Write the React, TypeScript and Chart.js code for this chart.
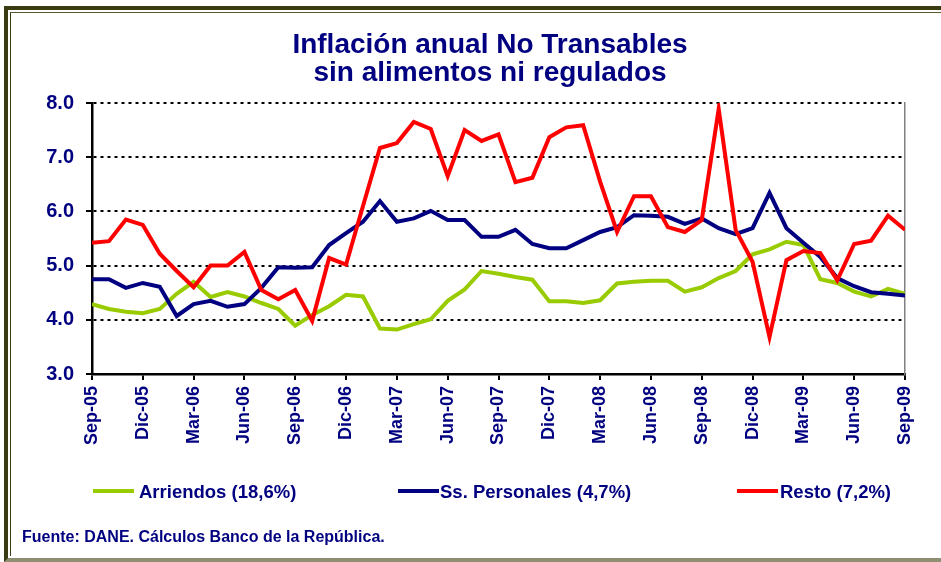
import React, { useEffect, useRef } from "react";
import { Chart, registerables } from "chart.js";

Chart.register(...registerables);

const months = [
  "Sep-05", "Oct-05", "Nov-05", "Dic-05", "Ene-06", "Feb-06", "Mar-06", "Abr-06", "May-06", "Jun-06", "Jul-06", "Ago-06",
  "Sep-06", "Oct-06", "Nov-06", "Dic-06", "Ene-07", "Feb-07", "Mar-07", "Abr-07", "May-07", "Jun-07", "Jul-07", "Ago-07",
  "Sep-07", "Oct-07", "Nov-07", "Dic-07", "Ene-08", "Feb-08", "Mar-08", "Abr-08", "May-08", "Jun-08", "Jul-08", "Ago-08",
  "Sep-08", "Oct-08", "Nov-08", "Dic-08", "Ene-09", "Feb-09", "Mar-09", "Abr-09", "May-09", "Jun-09", "Jul-09", "Ago-09",
  "Sep-09",
];

const arriendos = [
  4.29, 4.2, 4.15, 4.12, 4.2, 4.48, 4.7, 4.42, 4.51, 4.43, 4.31, 4.2,
  3.89, 4.09, 4.25, 4.46, 4.43, 3.84, 3.82, 3.92, 4.01, 4.35, 4.56, 4.9,
  4.85, 4.79, 4.74, 4.34, 4.34, 4.31, 4.36, 4.67, 4.7, 4.72, 4.72, 4.52,
  4.6, 4.77, 4.9, 5.21, 5.3, 5.44, 5.38, 4.75, 4.68, 4.52, 4.43, 4.57,
  4.48,
];

const ssPersonales = [
  4.75, 4.75, 4.59, 4.68, 4.61, 4.07, 4.29, 4.35, 4.24, 4.29, 4.59, 4.97,
  4.96, 4.97, 5.38, 5.6, 5.81, 6.19, 5.81, 5.87, 6.01, 5.84, 5.84, 5.53,
  5.53, 5.66, 5.4, 5.32, 5.32, 5.47, 5.62, 5.71, 5.93, 5.92, 5.9, 5.77,
  5.87, 5.69, 5.58, 5.69, 6.34, 5.69, 5.42, 5.16, 4.77, 4.62, 4.51, 4.48,
  4.45,
];

const resto = [
  5.42, 5.45, 5.85, 5.75, 5.22, 4.9, 4.6, 5.0, 5.0, 5.25, 4.55, 4.38,
  4.55, 3.98, 5.14, 5.02, 6.1, 7.17, 7.26, 7.65, 7.52, 6.65, 7.5, 7.3,
  7.42, 6.54, 6.62, 7.37, 7.55, 7.59, 6.55, 5.62, 6.28, 6.28, 5.71, 5.62,
  5.84, 7.89, 5.66, 5.07, 3.68, 5.1, 5.27, 5.23, 4.73, 5.4, 5.46, 5.92,
  5.66,
];

const seriesNames = ["Arriendos (18,6%)", "Ss. Personales (4,7%)", "Resto (7,2%)"];
const seriesColors = ["#99CC00", "#000080", "#FF0000"];
const titleLines = ["Inflación anual No Transables", "sin alimentos ni regulados"];
const sourceNote = "Fuente: DANE. Cálculos Banco de la República.";

const NAVY = "#000080";
const FONT = '"Liberation Sans", Arial, Helvetica, sans-serif';

const legendPos = [
  { line: 93, text: 139 },
  { line: 398, text: 440 },
  { line: 737, text: 780 },
];

export default function App() {
  const ref = useRef<HTMLCanvasElement | null>(null);

  useEffect(() => {
    if (!ref.current) return;
    const toPts = (arr: number[]) => arr.map((y, x) => ({ x, y }));
    const all = [arriendos, ssPersonales, resto];
    const orders = [3, 2, 1];
    const chart = new Chart(ref.current, {
      type: "line",
      data: {
        datasets: all.map((arr, i) => ({
          label: seriesNames[i],
          data: toPts(arr),
          borderColor: seriesColors[i],
          backgroundColor: seriesColors[i],
          borderWidth: 4,
          pointRadius: 0,
          tension: 0,
          fill: false,
          order: orders[i],
        })),
      },
      options: {
        animation: false,
        responsive: false,
        devicePixelRatio: 1,
        layout: { padding: { left: 0, right: 36, top: 103, bottom: 88 } },
        plugins: {
          legend: { display: false },
          tooltip: { enabled: false },
          title: { display: false },
        },
        scales: {
          x: {
            type: "linear",
            min: 0,
            max: months.length - 1,
            afterFit: (s: any) => {
              s.height = 100;
            },
            ticks: {
              stepSize: 3,
              autoSkip: false,
              maxRotation: 90,
              minRotation: 90,
              padding: 6,
              color: NAVY,
              font: { family: FONT, size: 18, weight: "bold" },
              callback: (v: any) => months[Number(v)] ?? "",
            },
            grid: {
              drawOnChartArea: false,
              drawTicks: true,
              tickLength: 6,
              color: "#000000",
              lineWidth: 2,
            },
            border: { color: "#000000", width: 2.5 },
          },
          y: {
            type: "linear",
            position: "left",
            min: 3,
            max: 8,
            afterFit: (s: any) => {
              s.width = 92;
            },
            ticks: {
              stepSize: 1,
              padding: 12,
              color: NAVY,
              font: { family: FONT, size: 20, weight: "bold" },
              callback: (v: any) => Number(v).toFixed(1),
            },
            grid: {
              color: "#000000",
              lineWidth: 2,
              tickLength: 6,
              drawTicks: true,
            },
            border: { color: "#000000", width: 2.5, dash: [3, 4] },
          },
          y2: {
            type: "linear",
            position: "right",
            min: 3,
            max: 8,
            afterFit: (s: any) => {
              s.width = 0;
            },
            ticks: { display: false },
            grid: { display: false },
            border: { color: "#808080", width: 1.5 },
          },
        },
      },
    } as any);
    return () => chart.destroy();
  }, []);

  return (
    <div
      style={{
        position: "fixed",
        left: 0,
        top: 0,
        width: 941,
        height: 562,
        overflow: "hidden",
        background: "#ffffff",
        fontFamily: FONT,
      }}
    >
      <div
        style={{
          position: "absolute",
          left: 4,
          top: 6,
          width: 2000,
          height: 556,
          boxSizing: "border-box",
          borderTop: "4px solid #3b3b12",
          borderLeft: "4px solid #3b3b12",
          borderBottom: "4px solid #8e8e72",
        }}
      />
      <div
        style={{
          position: "absolute",
          left: 10,
          top: 12,
          width: 2000,
          height: 544,
          boxSizing: "border-box",
          borderTop: "1px solid #5a5a2a",
          borderLeft: "1px solid #3b3b12",
        }}
      />
      <canvas
        ref={ref}
        width={941}
        height={562}
        style={{ position: "absolute", left: 0, top: 0, display: "block" }}
      />
      <div
        style={{
          position: "absolute",
          left: 0,
          top: 30,
          width: 980,
          textAlign: "center",
          color: NAVY,
          fontWeight: "bold",
          fontSize: 28,
          lineHeight: "28px",
          whiteSpace: "nowrap",
        }}
      >
        {titleLines.map((t) => (
          <div key={t}>{t}</div>
        ))}
      </div>
      {seriesNames.map((name, i) => (
        <React.Fragment key={name}>
          <div
            style={{
              position: "absolute",
              left: legendPos[i].line,
              top: 489,
              width: 41,
              height: 4,
              background: seriesColors[i],
            }}
          />
          <div
            style={{
              position: "absolute",
              left: legendPos[i].text,
              top: 481,
              color: NAVY,
              fontWeight: "bold",
              fontSize: 18.5,
              lineHeight: "22px",
              whiteSpace: "nowrap",
            }}
          >
            {name}
          </div>
        </React.Fragment>
      ))}
      <div
        style={{
          position: "absolute",
          left: 22,
          top: 527,
          color: NAVY,
          fontWeight: "bold",
          fontSize: 16,
          lineHeight: "20px",
          whiteSpace: "nowrap",
        }}
      >
        {sourceNote}
      </div>
    </div>
  );
}
